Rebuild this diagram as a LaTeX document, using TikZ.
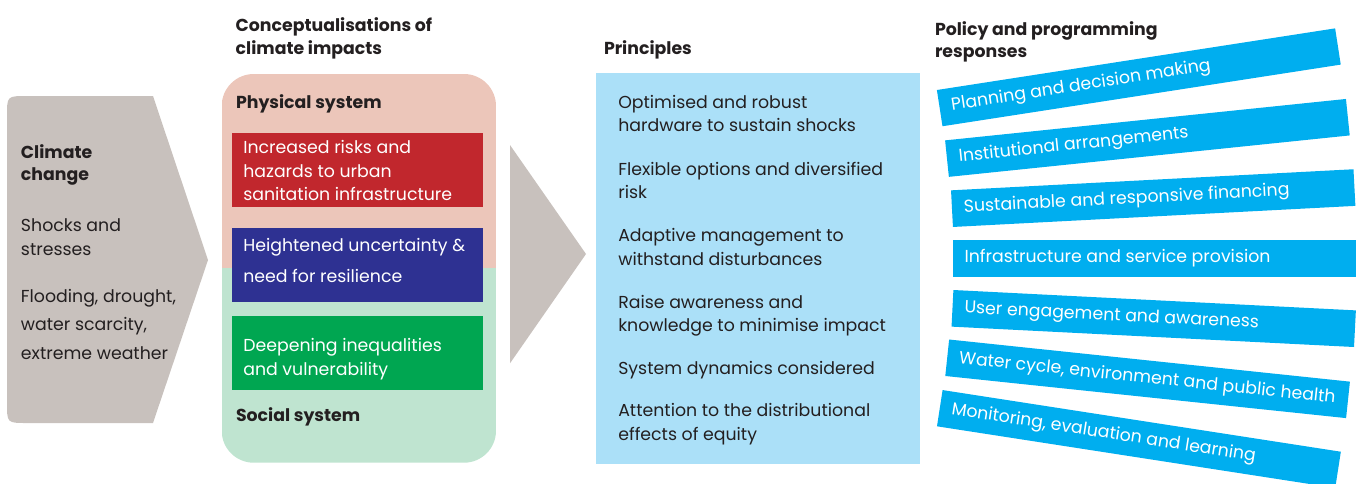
\documentclass[tikz,border=0pt]{standalone}
\usepackage{fontspec}
\setmainfont{Poppins}
\definecolor{cgray}{HTML}{C8C1BD}
\definecolor{cpink}{HTML}{ECC6BA}
\definecolor{cmint}{HTML}{BFE4D0}
\definecolor{cred}{HTML}{C1272D}
\definecolor{cnavy}{HTML}{2E3192}
\definecolor{cgreen}{HTML}{00A651}
\definecolor{clight}{HTML}{ABE0F8}
\definecolor{cbanner}{HTML}{00AEEF}
\definecolor{ctext}{HTML}{231F20}
\newcommand{\bantxt}[1]{\makebox[284.25pt][l]{#1}}
\begin{document}
\begin{tikzpicture}[x=0.75pt,y=-0.75pt,
  every node/.style={inner sep=0pt,outer sep=0pt},
  bodyfont/.style={font=\fontsize{13}{16}\selectfont},
  txt/.style={bodyfont,anchor=base west,text=ctext},
  wtxt/.style={bodyfont,anchor=base west,text=white},
  ttl/.style={font=\fontsize{13}{16}\selectfont\bfseries,anchor=base west,text=ctext},
  colbox/.style={anchor=north west,minimum width=188pt,minimum height=55.5pt},
  banner/.style={fill=cbanner,text=white,bodyfont,minimum width=302.25pt,minimum height=27.5pt}]
\useasboundingbox (0,0) rectangle (1358,483);

% ---- left: climate change chevron
\fill[cgray] (153,96) -- (208,260) -- (153,423) -- (27,423)
  .. controls (7,423) .. (7,403) -- (7,116) .. controls (7,96) .. (27,96) -- cycle;
\node[ttl] (cc1) at (21,158.5) {Climate};
\node[ttl] (cc2) at (21,180) {change};
\node[txt] (ss1) at (21,231.7) {Shocks and};
\node[txt] (ss2) at (21,255) {stresses};
\node[txt] (fd1) at (21,302.7) {Flooding, drought,};
\node[txt] (fd2) at (21,330.7) {water scarcity,};
\node[txt] (fd3) at (21,359.3) {extreme weather};

% ---- conceptualisations
\node[ttl] (ct1) at (235.7,31.7) {Conceptualisations of};
\node[ttl] (ct2) at (235.7,54) {climate impacts};
\begin{scope}
  \clip[rounded corners=24pt] (221.7,74) rectangle (496,462.7);
  \fill[cpink] (221.7,74) rectangle (496,268.3);
  \fill[cmint] (221.7,268.3) rectangle (496,462.7);
\end{scope}
\node[ttl] (phys) at (236,108) {Physical system};
\node[colbox,fill=cred] (red) at (232.3,133.3) {};
\node[wtxt] (r1) at (243.3,153) {Increased risks and};
\node[wtxt] (r2) at (243.3,177) {hazards to urban};
\node[wtxt] (r3) at (243.3,200.5) {sanitation infrastructure};
\node[colbox,fill=cnavy] (blue) at (232.3,228.3) {};
\node[wtxt] (u1) at (243.3,251.7) {Heightened uncertainty \&};
\node[wtxt] (u2) at (243.3,282.7) {need for resilience};
\node[colbox,fill=cgreen] (green) at (232.3,316) {};
\node[wtxt] (g1) at (243.3,351.7) {Deepening inequalities};
\node[wtxt] (g2) at (243.3,375) {and vulnerability};
\node[ttl] (soc) at (236,421.7) {Social system};

% ---- big arrow
\fill[cgray] (510,145) -- (586,254) -- (510,363.3) -- cycle;

% ---- principles
\node[ttl] (pt) at (604,54) {Principles};
\node[anchor=north west,fill=clight,minimum width=243pt,minimum height=293pt] (pbox) at (596,73.3) {};
\node[txt] (p1a) at (618.3,108.3) {Optimised and robust};
\node[txt] (p1b) at (618.3,131.7) {hardware to sustain shocks};
\node[txt] (p2a) at (618.3,175) {Flexible options and diversified};
\node[txt] (p2b) at (618.3,198.3) {risk};
\node[txt] (p3a) at (618.3,241.7) {Adaptive management to};
\node[txt] (p3b) at (618.3,265) {withstand disturbances};
\node[txt] (p4a) at (618.3,308.3) {Raise awareness and};
\node[txt] (p4b) at (618.3,331.7) {knowledge to minimise impact};
\node[txt] (p5a) at (618.3,374.3) {System dynamics considered};
\node[txt] (p6a) at (618.3,416.7) {Attention to the distributional};
\node[txt] (p6b) at (618.3,440) {effects of equity};

% ---- policy and programming responses
\node[ttl] (rt1) at (935,35) {Policy and programming};
\node[ttl] (rt2) at (935,57) {responses};
\node[banner,rotate=8.8]  (b1) at (1138.8,77.3)  {\bantxt{Planning and decision making}};
\node[banner,rotate=5.9]  (b2) at (1147.4,137.9) {\bantxt{Institutional arrangements}};
\node[banner,rotate=3.0]  (b3) at (1153.2,198.1) {\bantxt{Sustainable and responsive financing}};
\node[banner]             (b4) at (1154,258.3)   {\bantxt{Infrastructure and service provision}};
\node[banner,rotate=-2.9] (b5) at (1153.7,318.5) {\bantxt{User engagement and awareness}};
\node[banner,rotate=-6.0] (b6) at (1147.6,378.8) {\bantxt{Water cycle, environment and public health}};
\node[banner,rotate=-8.8] (b7) at (1138.9,439)   {\bantxt{Monitoring, evaluation and learning}};
\end{tikzpicture}
\end{document}
